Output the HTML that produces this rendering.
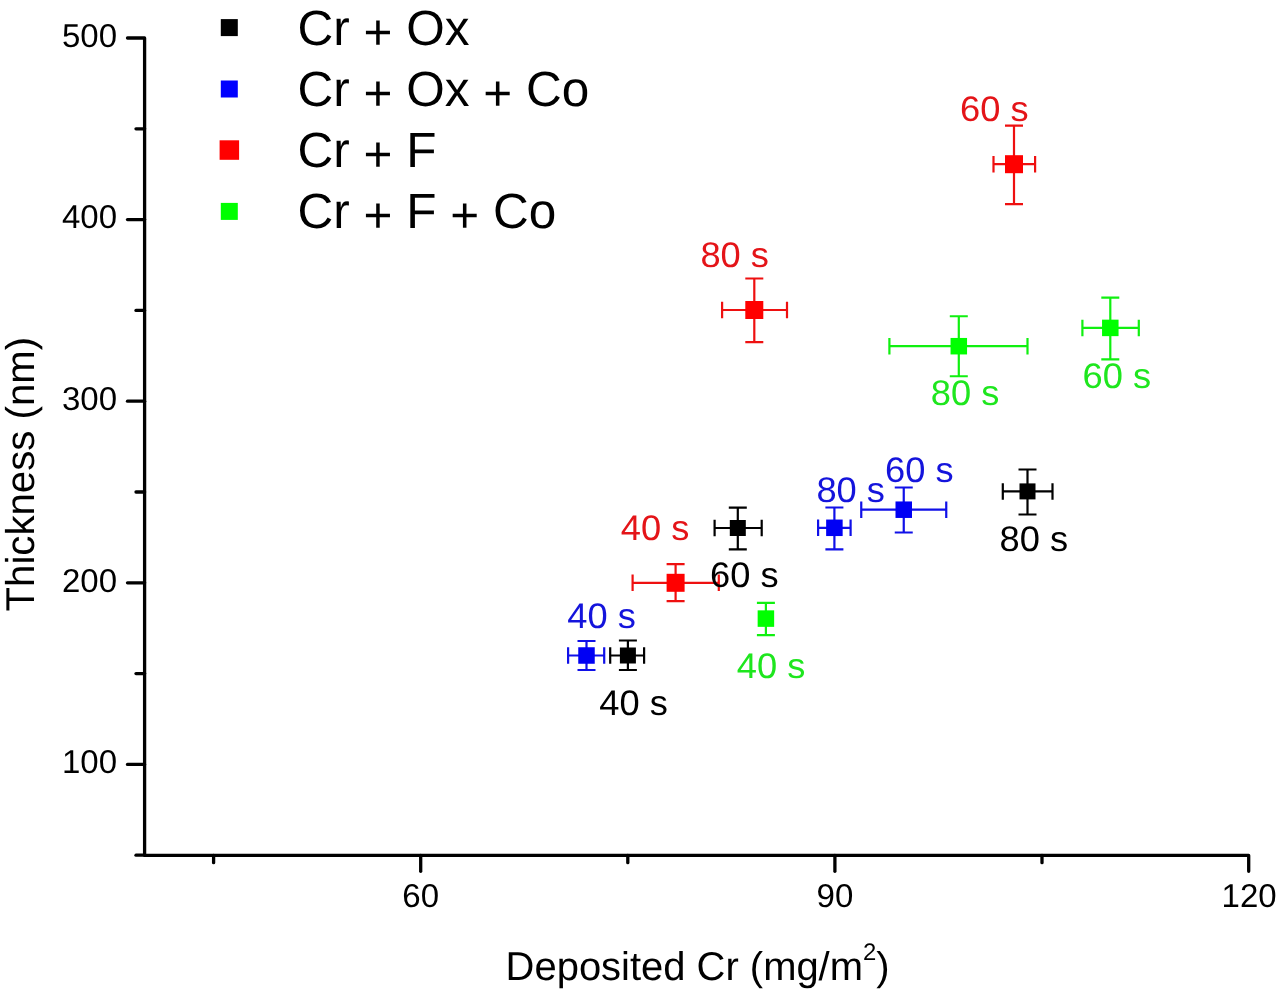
<!DOCTYPE html>
<html><head><meta charset="utf-8"><style>
html,body{margin:0;padding:0;background:#fff;}
svg{display:block;filter:blur(0.45px);}
text{font-family:"Liberation Sans",sans-serif;text-rendering:geometricPrecision;}
</style></head><body>
<svg width="1280" height="989" viewBox="0 0 1280 989">
<rect width="1280" height="989" fill="#fff"/>
<path d="M127.5,38.0 H144.6 V855.4 H1248.7 V871.3" fill="none" stroke="#000" stroke-width="3.3" stroke-linejoin="round" stroke-linecap="round"/>
<line x1="127.5" y1="764.4" x2="144.6" y2="764.4" stroke="#000" stroke-width="3.3" stroke-linecap="round"/>
<line x1="127.5" y1="582.8" x2="144.6" y2="582.8" stroke="#000" stroke-width="3.3" stroke-linecap="round"/>
<line x1="127.5" y1="401.2" x2="144.6" y2="401.2" stroke="#000" stroke-width="3.3" stroke-linecap="round"/>
<line x1="127.5" y1="219.6" x2="144.6" y2="219.6" stroke="#000" stroke-width="3.3" stroke-linecap="round"/>
<line x1="136" y1="855.2" x2="144.6" y2="855.2" stroke="#000" stroke-width="3.3" stroke-linecap="round"/>
<line x1="136" y1="673.6" x2="144.6" y2="673.6" stroke="#000" stroke-width="3.3" stroke-linecap="round"/>
<line x1="136" y1="492.0" x2="144.6" y2="492.0" stroke="#000" stroke-width="3.3" stroke-linecap="round"/>
<line x1="136" y1="310.4" x2="144.6" y2="310.4" stroke="#000" stroke-width="3.3" stroke-linecap="round"/>
<line x1="136" y1="128.8" x2="144.6" y2="128.8" stroke="#000" stroke-width="3.3" stroke-linecap="round"/>
<line x1="420.7" y1="855.4" x2="420.7" y2="871.3" stroke="#000" stroke-width="3.3" stroke-linecap="round"/>
<line x1="834.9" y1="855.4" x2="834.9" y2="871.3" stroke="#000" stroke-width="3.3" stroke-linecap="round"/>
<line x1="213.6" y1="855.4" x2="213.6" y2="862.7" stroke="#000" stroke-width="3.3" stroke-linecap="round"/>
<line x1="627.8" y1="855.4" x2="627.8" y2="862.7" stroke="#000" stroke-width="3.3" stroke-linecap="round"/>
<line x1="1042.0" y1="855.4" x2="1042.0" y2="862.7" stroke="#000" stroke-width="3.3" stroke-linecap="round"/>
<text x="117" y="773.1" text-anchor="end" font-size="33">100</text>
<text x="117" y="591.5" text-anchor="end" font-size="33">200</text>
<text x="117" y="409.9" text-anchor="end" font-size="33">300</text>
<text x="117" y="228.3" text-anchor="end" font-size="33">400</text>
<text x="117" y="46.7" text-anchor="end" font-size="33">500</text>
<text x="420.7" y="907.3" text-anchor="middle" font-size="33">60</text>
<text x="834.9" y="907.3" text-anchor="middle" font-size="33">90</text>
<text x="1249.1" y="907.3" text-anchor="middle" font-size="33">120</text>
<text transform="translate(505.6,980.1) scale(0.994,1)" font-size="40.2">Deposited Cr (mg/m<tspan font-size="24" dy="-20.5">2</tspan><tspan dy="20.5">)</tspan></text>
<text transform="translate(34,611.5) rotate(-90) scale(1.0,1)" font-size="40.2">Thickness (nm)</text>
<rect x="220.8" y="19.1" width="17" height="17" fill="#000000"/>
<text x="297.6" y="44.5" font-size="49.5">Cr <tspan dy="4.5">+</tspan><tspan dy="-4.5"> Ox</tspan></text>
<rect x="220.8" y="80.5" width="17" height="17" fill="#0000ff"/>
<text x="297.6" y="105.5" font-size="49.5">Cr <tspan dy="4.5">+</tspan><tspan dy="-4.5"> Ox <tspan dy="4.5">+</tspan><tspan dy="-4.5"> Co</tspan></tspan></text>
<rect x="219.6" y="140.3" width="19.5" height="19.5" fill="#ff0000"/>
<text x="297.6" y="166.5" font-size="49.5">Cr <tspan dy="4.5">+</tspan><tspan dy="-4.5"> F</tspan></text>
<rect x="220.8" y="202.9" width="17" height="17" fill="#00ff00"/>
<text x="297.6" y="227.5" font-size="49.5">Cr <tspan dy="4.5">+</tspan><tspan dy="-4.5"> F <tspan dy="4.5">+</tspan><tspan dy="-4.5"> Co</tspan></tspan></text>
<path d="M627.9,640.5 V670 M618.9,640.5 H636.9 M618.9,670 H636.9 M610.2,655.5 H644.1 M610.2,647.25 V663.75 M644.1,647.25 V663.75" stroke="#000" stroke-width="2.2" fill="none"/>
<rect x="619.90" y="647.50" width="16" height="16" fill="#000"/>
<path d="M737.8,507.6 V549.3 M728.8,507.6 H746.8 M728.8,549.3 H746.8 M714.6,528 H761.7 M714.6,519.75 V536.25 M761.7,519.75 V536.25" stroke="#000" stroke-width="2.2" fill="none"/>
<rect x="729.80" y="520.00" width="16" height="16" fill="#000"/>
<path d="M1027.5,469.5 V514.5 M1018.5,469.5 H1036.5 M1018.5,514.5 H1036.5 M1002.8,491.4 H1052.5 M1002.8,483.15 V499.65 M1052.5,483.15 V499.65" stroke="#000" stroke-width="2.2" fill="none"/>
<rect x="1019.50" y="483.40" width="16" height="16" fill="#000"/>
<path d="M586.5,641 V670 M577.5,641 H595.5 M577.5,670 H595.5 M568.1,655.5 H604.2 M568.1,647.25 V663.75 M604.2,647.25 V663.75" stroke="#1010e8" stroke-width="2.2" fill="none"/>
<rect x="578.25" y="647.25" width="16.5" height="16.5" fill="#0000f4"/>
<path d="M903.75,487.5 V532.5 M894.75,487.5 H912.75 M894.75,532.5 H912.75 M861.25,509.7 H946.25 M861.25,501.45 V517.95 M946.25,501.45 V517.95" stroke="#1010e8" stroke-width="2.2" fill="none"/>
<rect x="895.50" y="501.45" width="16.5" height="16.5" fill="#0000f4"/>
<path d="M834.4,507.5 V549.4 M825.4,507.5 H843.4 M825.4,549.4 H843.4 M818.1,527.8 H850.6 M818.1,519.55 V536.05 M850.6,519.55 V536.05" stroke="#1010e8" stroke-width="2.2" fill="none"/>
<rect x="826.15" y="519.55" width="16.5" height="16.5" fill="#0000f4"/>
<path d="M675.6,564.1 V601.1 M666.6,564.1 H684.6 M666.6,601.1 H684.6 M632.6,582.8 H718.8 M632.6,574.55 V591.05 M718.8,574.55 V591.05" stroke="#ee1010" stroke-width="2.2" fill="none"/>
<rect x="666.60" y="573.80" width="18" height="18" fill="#ff0000"/>
<path d="M1014,125.6 V204.2 M1005.0,125.6 H1023.0 M1005.0,204.2 H1023.0 M993.5,164.2 H1035.1 M993.5,155.95 V172.45 M1035.1,155.95 V172.45" stroke="#ee1010" stroke-width="2.2" fill="none"/>
<rect x="1005.00" y="155.20" width="18" height="18" fill="#ff0000"/>
<path d="M754.3,278.5 V342.2 M745.3,278.5 H763.3 M745.3,342.2 H763.3 M722.1,310 H787 M722.1,301.75 V318.25 M787,301.75 V318.25" stroke="#ee1010" stroke-width="2.2" fill="none"/>
<rect x="745.30" y="301.00" width="18" height="18" fill="#ff0000"/>
<path d="M765.9,602.8 V635.1 M756.9,602.8 H774.9 M756.9,635.1 H774.9" stroke="#10f010" stroke-width="2.2" fill="none"/>
<rect x="757.65" y="610.35" width="16.5" height="16.5" fill="#00ff00"/>
<path d="M1110.3,297.6 V359.4 M1101.3,297.6 H1119.3 M1101.3,359.4 H1119.3 M1082.4,327.9 H1138.8 M1082.4,319.65 V336.15 M1138.8,319.65 V336.15" stroke="#10f010" stroke-width="2.2" fill="none"/>
<rect x="1102.05" y="319.65" width="16.5" height="16.5" fill="#00ff00"/>
<path d="M958.8,316.25 V376.25 M949.8,316.25 H967.8 M949.8,376.25 H967.8 M889.4,346.2 H1027.5 M889.4,337.95 V354.45 M1027.5,337.95 V354.45" stroke="#10f010" stroke-width="2.2" fill="none"/>
<rect x="950.55" y="337.95" width="16.5" height="16.5" fill="#00ff00"/>
<text transform="translate(960.1,121.4) scale(1.02,1)" font-size="35.6" fill="#e41418">60 s</text>
<text transform="translate(700.4,266.8) scale(1.02,1)" font-size="35.6" fill="#e41418">80 s</text>
<text transform="translate(930.8,405.4) scale(1.02,1)" font-size="35.6" fill="#1ee61e">80 s</text>
<text transform="translate(1082.5,387.7) scale(1.02,1)" font-size="35.6" fill="#1ee61e">60 s</text>
<text transform="translate(816.4,501.6) scale(1.02,1)" font-size="35.6" fill="#1414dc">80 s</text>
<text transform="translate(885.1,482.3) scale(1.02,1)" font-size="35.6" fill="#1414dc">60 s</text>
<text transform="translate(999.5,550.5) scale(1.02,1)" font-size="35.6" fill="#000">80 s</text>
<text transform="translate(710.0,587.4) scale(1.02,1)" font-size="35.6" fill="#000">60 s</text>
<text transform="translate(620.7,539.6) scale(1.02,1)" font-size="35.6" fill="#e41418">40 s</text>
<text transform="translate(567.3,627.9) scale(1.02,1)" font-size="35.6" fill="#1414dc">40 s</text>
<text transform="translate(599.2,715.0) scale(1.02,1)" font-size="35.6" fill="#000">40 s</text>
<text transform="translate(736.7,678.3) scale(1.02,1)" font-size="35.6" fill="#1ee61e">40 s</text>
</svg>
</body></html>
